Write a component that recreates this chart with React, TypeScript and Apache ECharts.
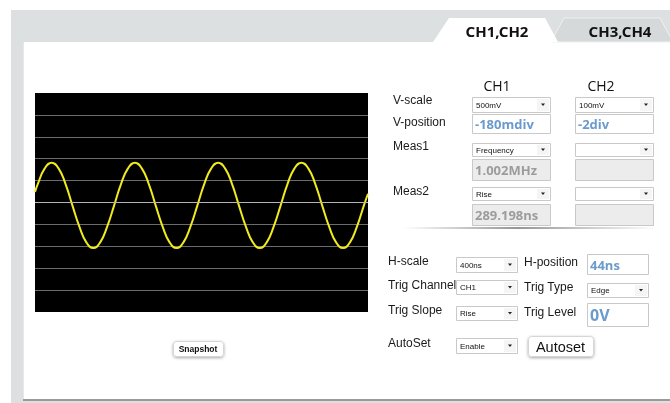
import React, { useEffect, useRef } from 'react';
import * as echarts from 'echarts';

// ---- Data ----
// CH1 trace: time (ns) and voltage (V), 400 ns/div, 500 mV/div
const waveTimesNs = [
  0, 33, 117,
  200, 283, 367, 450, 533, 617, 700, 783, 867, 950, 1033, 1117,
  1200, 1283, 1367, 1450, 1533, 1617, 1700, 1783, 1867, 1950, 2033, 2117,
  2200, 2283, 2367, 2450, 2533, 2617, 2700, 2783, 2867, 2950, 3033, 3117,
  3200, 3283, 3367, 3450, 3533, 3617, 3700, 3783, 3867, 3950,
  4000,
];
const waveVolts = [
  0.24, 0.42, 0.78,
  0.91, 0.78, 0.42, -0.07, -0.55, -0.91, -1.04, -0.91, -0.55, -0.07, 0.42, 0.78,
  0.91, 0.78, 0.42, -0.07, -0.55, -0.91, -1.04, -0.91, -0.55, -0.07, 0.42, 0.78,
  0.91, 0.78, 0.42, -0.07, -0.55, -0.91, -1.04, -0.91, -0.55, -0.07, 0.42, 0.78,
  0.91, 0.78, 0.42, -0.07, -0.55, -0.91, -1.04, -0.91, -0.55, -0.07,
  0.2,
];
const timeMinNs = 0;
const timeMaxNs = 4000;
const timeDivNs = 400;
const voltMin = -2.5;
const voltMax = 2.5;
const voltDiv = 0.5;

// ---- Panel texts ----
const tabLabels = ['CH1,CH2', 'CH3,CH4'];
const channelHeaders = ['CH1', 'CH2'];
const rowLabels = ['V-scale', 'V-position', 'Meas1', 'Meas2'];
const vScaleValues = ['500mV', '100mV'];
const vPositionValues = ['-180mdiv', '-2div'];
const meas1Types = ['Frequency', ''];
const meas1Values = ['1.002MHz', ''];
const meas2Types = ['Rise', ''];
const meas2Values = ['289.198ns', ''];
const leftLabels = ['H-scale', 'Trig Channel', 'Trig Slope', 'AutoSet'];
const leftValues = ['400ns', 'CH1', 'Rise', 'Enable'];
const rightLabels = ['H-position', 'Trig Type', 'Trig Level'];
const hPositionValue = '44ns';
const trigTypeValue = 'Edge';
const trigLevelValue = '0V';
const snapshotLabel = 'Snapshot';
const autosetLabel = 'Autoset';

const LABEL_FONT = '12px "Liberation Sans", Arial, sans-serif';
const SMALL_FONT = '8px "Liberation Sans", Arial, sans-serif';
const BLUE = '#6a9bcc';

function txt(x: number, y: number, text: string, font: string, fill: string, align = 'left') {
  return {
    type: 'text',
    x,
    y,
    z: 10,
    style: { text, font, fill, align, verticalAlign: 'middle', textAlign: align, textVerticalAlign: 'middle' },
  };
}

function dropdown(x: number, y: number, w: number, h: number, text: string) {
  const cx = x + w - 7;
  const cy = y + h / 2;
  return [
    { type: 'rect', z: 10, shape: { x: x + 0.5, y: y + 0.5, width: w, height: h }, style: { fill: '#fff', stroke: '#c9c9c9', lineWidth: 1 } },
    { type: 'rect', z: 11, shape: { x: x + w - 13, y: y + 2, width: 12, height: h - 3 }, style: { fill: '#f5f5f5' } },
    { type: 'polygon', z: 12, shape: { points: [[cx - 2, cy - 1], [cx + 2, cy - 1], [cx, cy + 1.5]] }, style: { fill: '#222' } },
    txt(x + 4, cy + 0.5, text, SMALL_FONT, '#111'),
  ];
}

function textBox(x: number, y: number, w: number, h: number, text: string, color: string, fill: string, size = 13) {
  return [
    { type: 'rect', z: 10, shape: { x: x + 0.5, y: y + 0.5, width: w, height: h }, style: { fill, stroke: '#c9c9c9', lineWidth: 1 } },
    txt(x + 3, y + h / 2 + 0.5, text, `bold ${size}px "Open Sans", "Noto Sans", sans-serif`, color),
  ];
}

function button(x: number, y: number, w: number, h: number, text: string, font: string) {
  return [
    {
      type: 'rect', z: 10,
      shape: { x: x + 0.5, y: y + 0.5, width: w, height: h, r: 3 },
      style: { fill: '#fff', stroke: '#d6d6d6', lineWidth: 1, shadowBlur: 3, shadowOffsetY: 1, shadowColor: 'rgba(0,0,0,0.35)' },
    },
    txt(x + w / 2, y + h / 2 + 0.5, text, font, '#111', 'center'),
  ];
}

export default function App() {
  const ref = useRef<HTMLDivElement>(null);

  useEffect(() => {
    document.body.style.margin = '0';
    const chart = echarts.init(ref.current!, undefined, { renderer: 'svg' });

    const data = waveTimesNs.map((t, i) => [t, waveVolts[i]]);

    const cols = [472, 575];
    const elements: any[] = [
      // frame
      { type: 'rect', z: -10, shape: { x: 11, y: 10, width: 659, height: 393 }, style: { fill: '#dde0e0' } },
      { type: 'rect', z: -9, shape: { x: 23, y: 42, width: 647, height: 359 }, style: { fill: '#9a9a9a' } },
      { type: 'rect', z: -8, shape: { x: 23, y: 42, width: 647, height: 357 }, style: { fill: '#fff' } },
      { type: 'rect', z: -7, shape: { x: 23, y: 42, width: 1, height: 357 }, style: { fill: '#e6e8e8' } },
      // tabs
      {
        type: 'polygon', z: -7,
        shape: { points: [[551, 42], [564, 18], [660, 18], [673, 42]] },
        style: { fill: '#d6d9d9', stroke: '#eef0f0', lineWidth: 1 },
      },
      {
        type: 'polygon', z: -6,
        shape: { points: [[433, 42], [449, 18], [545, 18], [558, 42]] },
        style: { fill: '#fff' },
      },
      txt(497, 31, tabLabels[0], 'bold 15px "Noto Sans", "Open Sans", sans-serif', '#111', 'center'),
      txt(620, 31, tabLabels[1], 'bold 15px "Noto Sans", "Open Sans", sans-serif', '#111', 'center'),
      // channel headers
      txt(497, 85, channelHeaders[0], '14px "Open Sans", "Noto Sans", sans-serif', '#111', 'center'),
      txt(601, 85, channelHeaders[1], '14px "Open Sans", "Noto Sans", sans-serif', '#111', 'center'),
      // row labels
      txt(393, 100, rowLabels[0], LABEL_FONT, '#1a1a1a'),
      txt(393, 122, rowLabels[1], LABEL_FONT, '#1a1a1a'),
      txt(393, 146, rowLabels[2], LABEL_FONT, '#1a1a1a'),
      txt(393, 191, rowLabels[3], LABEL_FONT, '#1a1a1a'),
      // separator
      {
        type: 'rect', z: 10,
        shape: { x: 403, y: 227, width: 254, height: 2 },
        style: {
          fill: new echarts.graphic.LinearGradient(0, 0, 1, 0, [
            { offset: 0, color: 'rgba(150,150,150,0)' },
            { offset: 0.45, color: 'rgba(150,150,150,1)' },
            { offset: 1, color: 'rgba(150,150,150,0)' },
          ]),
        },
      },
      // lower labels
      txt(388, 261, leftLabels[0], LABEL_FONT, '#1a1a1a'),
      txt(388, 285, leftLabels[1], LABEL_FONT, '#1a1a1a'),
      txt(388, 310, leftLabels[2], LABEL_FONT, '#1a1a1a'),
      txt(388, 343, leftLabels[3], LABEL_FONT, '#1a1a1a'),
      txt(524, 262, rightLabels[0], LABEL_FONT, '#1a1a1a'),
      txt(524, 287, rightLabels[1], LABEL_FONT, '#1a1a1a'),
      txt(524, 312, rightLabels[2], LABEL_FONT, '#1a1a1a'),
    ];

    cols.forEach((cx, i) => {
      elements.push(...dropdown(cx, 97, 78, 15, vScaleValues[i]));
      elements.push(...textBox(cx, 114, 78, 19, vPositionValues[i], BLUE, '#fff'));
      elements.push(...dropdown(cx, 143, 78, 13, meas1Types[i]));
      elements.push(...textBox(cx, 159, 78, 21, meas1Values[i], '#9c9c9c', '#ececec'));
      elements.push(...dropdown(cx, 187, 78, 13, meas2Types[i]));
      elements.push(...textBox(cx, 204, 78, 21, meas2Values[i], '#9c9c9c', '#ececec'));
    });

    elements.push(...dropdown(456, 257, 61, 15, leftValues[0]));
    elements.push(...dropdown(456, 280, 61, 14, leftValues[1]));
    elements.push(...dropdown(456, 306, 61, 14, leftValues[2]));
    elements.push(...dropdown(456, 338, 61, 15, leftValues[3]));
    elements.push(...textBox(587, 254, 61, 20, hPositionValue, BLUE, '#fff'));
    elements.push(...dropdown(587, 283, 61, 14, trigTypeValue));
    elements.push(...textBox(587, 303, 61, 23, trigLevelValue, BLUE, '#fff', 16));
    elements.push(...button(528, 336, 65, 20, autosetLabel, '14.5px "Liberation Sans", Arial, sans-serif'));
    elements.push(...button(173, 341, 50, 15, snapshotLabel, 'bold 8.5px "Liberation Sans", Arial, sans-serif'));

    chart.setOption({
      animation: false,
      grid: {
        left: 35,
        top: 93,
        width: 333,
        height: 219,
        show: true,
        backgroundColor: '#000',
        borderWidth: 0,
      },
      xAxis: {
        type: 'value',
        min: timeMinNs,
        max: timeMaxNs,
        interval: timeDivNs,
        axisLine: { show: false },
        axisTick: { show: false },
        axisLabel: { show: false },
        splitLine: { show: false },
      },
      yAxis: {
        type: 'value',
        min: voltMin,
        max: voltMax,
        interval: voltDiv,
        axisLine: { show: false },
        axisTick: { show: false },
        axisLabel: { show: false },
        splitLine: { show: true, showMinLine: false, showMaxLine: false, lineStyle: { color: '#6c6c6c', width: 1 } },
      },
      graphic: { elements },
      series: [
        {
          type: 'line',
          data,
          smooth: true,
          showSymbol: false,
          silent: true,
          lineStyle: { color: '#f0ea1e', width: 2 },
          markLine: {
            silent: true,
            symbol: 'none',
            label: { show: false },
            lineStyle: { color: '#b4b4b4', width: 1, type: 'solid' },
            data: [{ yAxis: 0 }],
          },
        },
      ],
    });

    return () => chart.dispose();
  }, []);

  return <div ref={ref} style={{ position: 'fixed', left: 0, top: 0, width: 670, height: 403 }} />;
}
